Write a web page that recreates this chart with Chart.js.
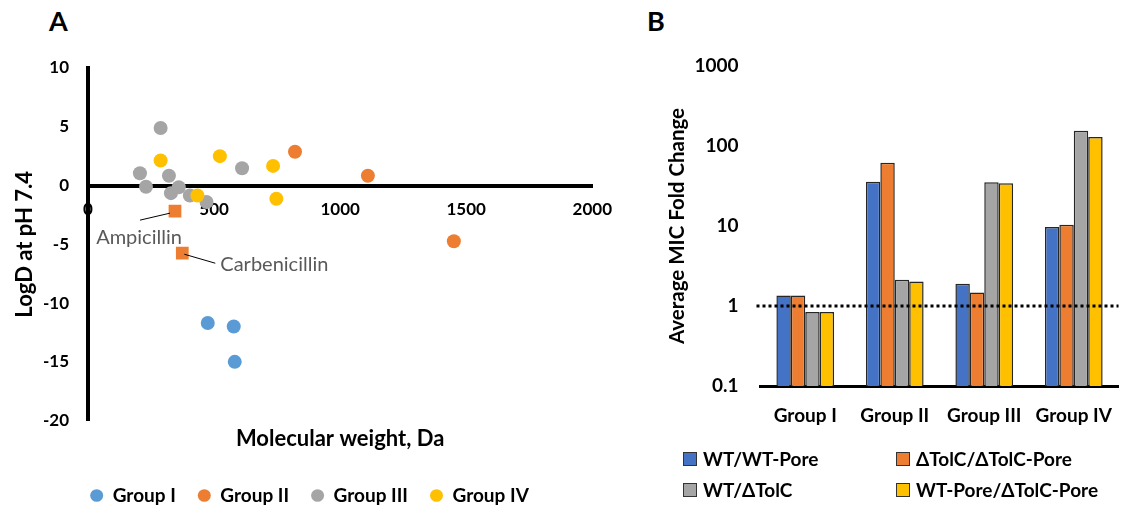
<!DOCTYPE html>
<html>
<head>
<meta charset="utf-8">
<title>Antibiotic properties and MIC fold change</title>
<script src="https://cdn.jsdelivr.net/npm/chart.js@4.4.0/dist/chart.umd.min.js"></script>
<style>
  html, body { margin: 0; padding: 0; background: #fff; }
  body { width: 1131px; height: 512px; position: relative; overflow: hidden; font-family: Lato, sans-serif; }
  .panel-tag { position: absolute; font: bold 27px/27px Lato, sans-serif; color: #000; }
  .wrap { position: absolute; top: 0; height: 512px; }
  #legendB { position: absolute; left: 683px; top: 443px; display: grid;
             grid-template-columns: 213px 230px; grid-auto-rows: 31px;
             font: bold 19px Lato, sans-serif; color: #000; }
  #legendB .item { display: flex; align-items: center; white-space: nowrap; }
  #legendB .swatch { width: 12px; height: 12px; border: 1px solid #333; margin-right: 6px; flex: none; }
</style>
</head>
<body>
<div class="panel-tag" style="left:49px;top:7px">A</div>
<div class="panel-tag" style="left:647px;top:7px">B</div>
<div class="wrap" style="left:620px;width:511px"><canvas id="chartB" width="511" height="512"></canvas></div>
<div class="wrap" style="left:0;width:626px"><canvas id="chartA" width="626" height="512"></canvas></div>
<div id="legendB"></div>
<script>
// ---- Panel A: molecular weight vs LogD at pH 7.4 ----
const groupNames = ['Group I', 'Group II', 'Group III', 'Group IV'];
const group1MW   = [475, 578, 582];
const group1LogD = [-11.7, -12.0, -15.0];
const group2MW   = [821, 1110, 1451];
const group2LogD = [2.87, 0.83, -4.74];
const group3MW   = [206, 230, 288, 321, 329, 360, 404, 470, 611];
const group3LogD = [1.05, -0.1, 4.9, 0.83, -0.65, -0.14, -0.85, -1.4, 1.47];
const group4MW   = [288, 434, 523, 734, 747];
const group4LogD = [2.13, -0.85, 2.5, 1.67, -1.13];
// beta-lactams from Group II that are called out by name
const penicillinNames = ['Ampicillin', 'Carbenicillin'];
const penicillinMW    = [345, 374];
const penicillinLogD  = [-2.18, -5.76];
const mwTicks   = [0, 500, 1000, 1500, 2000];
const logDTicks = [-20, -15, -10, -5, 0, 5, 10];

// ---- Panel B: average MIC fold change per group ----
const mutantGroups   = ['Group I', 'Group II', 'Group III', 'Group IV'];
const seriesNames    = ['WT/WT-Pore', 'ΔTolC/ΔTolC-Pore', 'WT/ΔTolC', 'WT-Pore/ΔTolC-Pore'];
const wtVsWtPore       = [1.35, 35.8, 1.9, 9.7];
const tolcVsTolcPore   = [1.35, 61.8, 1.47, 10.4];
const wtVsTolc         = [0.84, 2.13, 35.2, 155];
const wtPoreVsTolcPore = [0.84, 2.03, 34.2, 130];
const foldTicks      = [0.1, 1, 10, 100, 1000];
const foldTickLabels = ['0.1', '1', '10', '100', '1000'];
const noChangeLevel  = 1;

const FONT = 'Lato, sans-serif';
const toPoints = (xs, ys) => xs.map((x, i) => ({ x, y: ys[i] }));

const scatterColors = ['#5B9BD5', '#ED7D31', '#A5A5A5', '#FFC000'];
const barColors     = ['#4472C4', '#ED7D31', '#A5A5A5', '#FFC000'];

// Leader lines and names next to the called-out points (pixel offsets from the point)
const calloutStyle = [
  { line: [-5, 2, -35, 9], text: [-36, 26], align: 'center' },
  { line: [2, 1, 33, 10],  text: [38, 11],  align: 'left' }
];
const calloutPlugin = {
  id: 'callouts',
  afterDatasetsDraw(chart) {
    const ctx = chart.ctx;
    const meta = chart.getDatasetMeta(4);
    meta.data.forEach((pt, i) => {
      const s = calloutStyle[i];
      ctx.save();
      ctx.strokeStyle = '#000';
      ctx.lineWidth = 1;
      ctx.beginPath();
      ctx.moveTo(pt.x + s.line[0], pt.y + s.line[1]);
      ctx.lineTo(pt.x + s.line[2], pt.y + s.line[3]);
      ctx.stroke();
      ctx.fillStyle = '#595959';
      ctx.font = '20px ' + FONT;
      ctx.textAlign = s.align;
      ctx.textBaseline = 'middle';
      ctx.fillText(penicillinNames[i], pt.x + s.text[0], pt.y + s.text[1]);
      ctx.restore();
    });
  }
};

const groupSeries = [
  [group1MW, group1LogD], [group2MW, group2LogD], [group3MW, group3LogD], [group4MW, group4LogD]
];

new Chart(document.getElementById('chartA'), {
  type: 'scatter',
  data: {
    datasets: groupSeries.map((g, i) => ({
      label: groupNames[i],
      data: toPoints(g[0], g[1]),
      backgroundColor: scatterColors[i],
      borderColor: scatterColors[i],
      order: 4 - i
    })).concat([{
      label: groupNames[1],
      data: toPoints(penicillinMW, penicillinLogD),
      backgroundColor: scatterColors[1],
      borderColor: scatterColors[1],
      pointStyle: 'rect',
      pointRadius: 9,
      order: 0
    }])
  },
  options: {
    responsive: false,
    animation: false,
    events: [],
    layout: { padding: { left: 20, right: 27, top: 68, bottom: -3 } },
    elements: { point: { radius: 7, borderWidth: 0, pointStyle: 'circle' } },
    scales: {
      x: {
        type: 'linear', min: 0, max: 2000,
        position: { y: 0 },
        afterBuildTicks: s => { s.ticks = mwTicks.map(v => ({ value: v })); },
        grid: { display: false, drawTicks: false },
        border: { display: true, width: 4, color: '#000' },
        ticks: { padding: 14, color: '#000', autoSkip: false, maxRotation: 0,
                 font: { family: FONT, size: 17, weight: 'bold' },
                 callback: v => String(v) }
      },
      y: {
        type: 'linear', min: -20, max: 10, position: 'left',
        afterBuildTicks: s => { s.ticks = logDTicks.map(v => ({ value: v })); },
        afterFit: s => { s.width = 68; },
        grid: { display: false, drawTicks: false },
        border: { display: true, width: 4, color: '#000' },
        ticks: { padding: 19, color: '#000', autoSkip: false,
                 font: { family: FONT, size: 17, weight: 'bold' },
                 callback: v => String(v) },
        title: { display: true, text: 'LogD at pH 7.4', color: '#000',
                 font: { family: FONT, size: 22, weight: 'bold' },
                 padding: { top: -8, bottom: 0 } }
      }
    },
    plugins: {
      title: {
        display: true, position: 'bottom', fullSize: false, weight: 100,
        text: 'Molecular weight, Da', color: '#000',
        font: { family: FONT, size: 22, weight: 'bold' },
        padding: { top: 5, bottom: 12 }
      },
      legend: {
        position: 'bottom',
        labels: {
          usePointStyle: true, pointStyle: 'circle', pointStyleWidth: 13, boxHeight: 9,
          padding: 22, color: '#000',
          font: { family: FONT, size: 19, weight: 'bold' },
          filter: item => item.datasetIndex < 4,
          sort: (a, b) => a.datasetIndex - b.datasetIndex
        }
      },
      tooltip: { enabled: false }
    }
  },
  plugins: [calloutPlugin]
});

// Dotted reference line at a fold change of 1 (no change)
const noChangePlugin = {
  id: 'noChangeLine',
  afterDatasetsDraw(chart) {
    const { ctx, chartArea, scales } = chart;
    const py = scales.y.getPixelForValue(noChangeLevel);
    ctx.save();
    ctx.setLineDash([3, 3]);
    ctx.lineWidth = 3;
    ctx.strokeStyle = '#000';
    ctx.beginPath();
    ctx.moveTo(chartArea.left - 4, py);
    ctx.lineTo(chartArea.right, py);
    ctx.stroke();
    ctx.restore();
  }
};

const foldSeries = [wtVsWtPore, tolcVsTolcPore, wtVsTolc, wtPoreVsTolcPore];

new Chart(document.getElementById('chartB'), {
  type: 'bar',
  data: {
    labels: mutantGroups,
    datasets: foldSeries.map((vals, i) => ({
      label: seriesNames[i],
      data: vals,
      backgroundColor: barColors[i],
      borderColor: '#262626',
      borderWidth: 1.5,
      categoryPercentage: 0.645,
      barPercentage: 1.0
    }))
  },
  options: {
    responsive: false,
    animation: false,
    events: [],
    layout: { padding: { left: 0, right: 8.5, top: 66, bottom: 0 } },
    scales: {
      x: {
        grid: { display: false, drawTicks: false },
        border: { display: true, width: 3, color: '#000' },
        afterFit: s => { s.height = 126; },
        ticks: { padding: 18, color: '#000', font: { family: FONT, size: 19, weight: 'bold' } }
      },
      y: {
        type: 'logarithmic', min: 0.1, max: 1000,
        afterBuildTicks: s => { s.ticks = foldTicks.map(v => ({ value: v })); },
        afterFit: s => { s.width = 140.5; },
        grid: { display: false, drawTicks: false },
        border: { display: false },
        ticks: { padding: 22, color: '#000', autoSkip: false,
                 font: { family: FONT, size: 19, weight: 'bold' },
                 callback: (v, i) => foldTickLabels[i] },
        title: { display: true, text: 'Average MIC Fold Change', color: '#000',
                 font: { family: FONT, size: 20.5, weight: 'bold' },
                 padding: { top: 45, bottom: 0 } }
      }
    },
    plugins: { legend: { display: false }, tooltip: { enabled: false } }
  },
  plugins: [noChangePlugin]
});

// Two-column legend for panel B
const legendB = document.getElementById('legendB');
seriesNames.forEach((name, i) => {
  const item = document.createElement('div');
  item.className = 'item';
  const sw = document.createElement('span');
  sw.className = 'swatch';
  sw.style.background = barColors[i];
  const label = document.createElement('span');
  label.textContent = name;
  item.appendChild(sw);
  item.appendChild(label);
  legendB.appendChild(item);
});
</script>
</body>
</html>
